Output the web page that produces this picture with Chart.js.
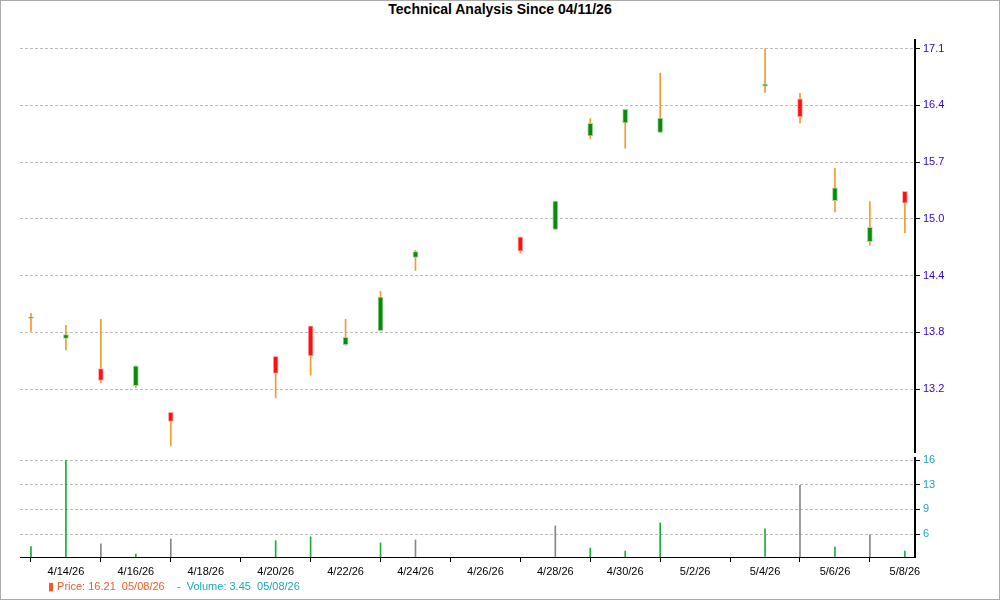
<!DOCTYPE html>
<html><head><meta charset="utf-8">
<script src="https://cdn.jsdelivr.net/npm/chart.js@4.4.1/dist/chart.umd.min.js"></script>
<style>
body{margin:0;width:1000px;height:600px;overflow:hidden;background:#fff;font-family:"Liberation Sans",Arial,sans-serif}
#frame{position:absolute;left:0;top:0;width:998px;height:598px;border:1px solid #aaa}
canvas{position:absolute;left:0;top:0}
#title{position:absolute;top:1px;left:0;width:1000px;text-align:center;font-weight:bold;font-size:14px;color:#000}
#legend{position:absolute;left:48px;top:580px;font-size:11px}
</style></head><body>
<div id="frame"></div>
<div id="title">Technical Analysis Since 04/11/26</div>
<canvas id="p" width="1000" height="600"></canvas>
<canvas id="v" width="1000" height="600"></canvas>
<div id="legend"><span style="color:#f05a28">&#9646; Price: 16.21&nbsp; 05/08/26</span>&nbsp;&nbsp;&nbsp;&nbsp;<span style="color:#1aa7b5">- &nbsp;Volume: 3.45&nbsp; 05/08/26</span></div>
<script>
const dates=['4/13/26','4/14/26','4/15/26','4/16/26','4/17/26','4/18/26','4/19/26','4/20/26','4/21/26','4/22/26','4/23/26','4/24/26','4/25/26','4/26/26','4/27/26','4/28/26','4/29/26','4/30/26','5/1/26','5/2/26','5/3/26','5/4/26','5/5/26','5/6/26','5/7/26','5/8/26'];
const openV =[14.01,13.78,13.43,13.24,12.93,null,null,13.57,13.92,13.71,13.87,14.71,null,null,14.94,15.03,16.10,16.25,16.14,null,null,16.67,16.52,15.36,14.89,15.46];
const highV =[14.07,13.93,14.00,13.47,12.93,null,null,13.57,13.92,14.00,14.32,14.79,null,null,14.94,15.35,16.30,16.40,16.82,null,null,17.10,16.59,15.73,15.35,15.46];
const lowV  =[13.86,13.65,13.27,13.22,12.55,null,null,13.10,13.36,13.70,13.87,14.56,null,null,14.76,15.03,16.07,15.96,16.14,null,null,16.60,16.25,15.23,14.85,14.99];
const closeV=[14.02,13.82,13.30,13.46,12.83,null,null,13.38,13.58,13.79,14.25,14.77,null,null,14.78,15.35,16.24,16.40,16.30,null,null,16.69,16.32,15.50,15.05,15.33];
const volume=[4.29,16.0,4.66,3.29,5.34,null,null,5.11,5.62,null,4.8,5.2,null,null,null,7.1,4.1,3.7,7.5,null,null,6.7,12.6,4.25,5.9,3.7];
const volUp =[1,1,0,1,0,0,0,1,1,0,1,0,0,0,0,0,1,1,1,0,0,1,0,1,0,1];
const priceTicks=[13.2,13.85,14.5,15.15,15.8,16.45,17.1];
const priceLabels=['13.2','13.8','14.4','15.0','15.7','16.4','17.1'];
const volTicks=[6,9.33,12.67,16];
const volLabels=['6','9','13','16'];

const idx=dates.map((d,i)=>i);
const wick=[],body=[],bodyCol=[],vol=[],volCol=[];
idx.forEach(i=>{
  if(openV[i]==null)return;
  wick.push({x:i,y:[lowV[i],highV[i]]});
  body.push({x:i,y:[Math.min(openV[i],closeV[i]),Math.max(openV[i],closeV[i])+0.005]});
  bodyCol.push(closeV[i]>=openV[i]?'#0a8a0a':'#ff1010');
});
idx.forEach(i=>{ if(volume[i]!=null){vol.push({x:i,y:volume[i]});volCol.push(volUp[i]?'#17b03a':'#888');}});
const xMin=-0.314,xMax=25.29;
const grid={color:'#bbb',drawTicks:true,tickLength:5,tickColor:'#000'};
const border={color:'#000',width:2,dash:[3,2]};
Chart.defaults.font.family='"Liberation Sans",Arial,sans-serif';
Chart.defaults.animation=false;
new Chart(document.getElementById('p'),{type:'bar',
 data:{datasets:[
  {data:wick,backgroundColor:'#f39c2a',barThickness:1,grouped:false,order:2},
  {data:body,backgroundColor:bodyCol,borderColor:bodyCol.map(c=>c=='#ff1010'?'#ffb0b0':'#9fd49f'),borderWidth:1,borderSkipped:false,barThickness:5,grouped:false,order:1}]},
 options:{responsive:false,layout:{padding:{left:20,top:40,bottom:148,right:0}},
  plugins:{legend:{display:false},tooltip:{enabled:false}},
  scales:{x:{type:'linear',offset:false,min:xMin,max:xMax,display:false},
   y:{position:'right',min:12.48,max:17.2,
    afterBuildTicks:a=>{a.ticks=priceTicks.map(v=>({value:v}));},
    ticks:{callback:(v,i)=>priceLabels[i],color:'#3300cc',font:{size:11}},
    grid:grid,border:border,afterFit:s=>{s.width=85;}}}}});
new Chart(document.getElementById('v'),{type:'bar',
 data:{datasets:[{data:vol,backgroundColor:volCol,barThickness:1}]},
 options:{responsive:false,layout:{padding:{left:20,top:458,bottom:0,right:0}},
  plugins:{legend:{display:false},tooltip:{enabled:false}},
  scales:{x:{type:'linear',offset:false,min:xMin,max:xMax,
    afterBuildTicks:a=>{a.ticks=idx.filter(i=>i%2==1).map(v=>({value:v}));},
    ticks:{callback:v=>dates[v],color:'#000',font:{size:11},maxRotation:0,autoSkip:false},
    grid:{display:true,drawOnChartArea:false,tickLength:5,tickColor:'#000'},border:{color:'#000'},
    afterFit:s=>{s.height=43;}},
   y:{position:'right',min:2.89,max:16.3,
    afterBuildTicks:a=>{a.ticks=volTicks.map(v=>({value:v}));},
    ticks:{callback:(v,i)=>volLabels[i],color:'#1aa7b5',font:{size:11}},
    grid:grid,border:border,afterFit:s=>{s.width=85;}}}}});
</script></body></html>
